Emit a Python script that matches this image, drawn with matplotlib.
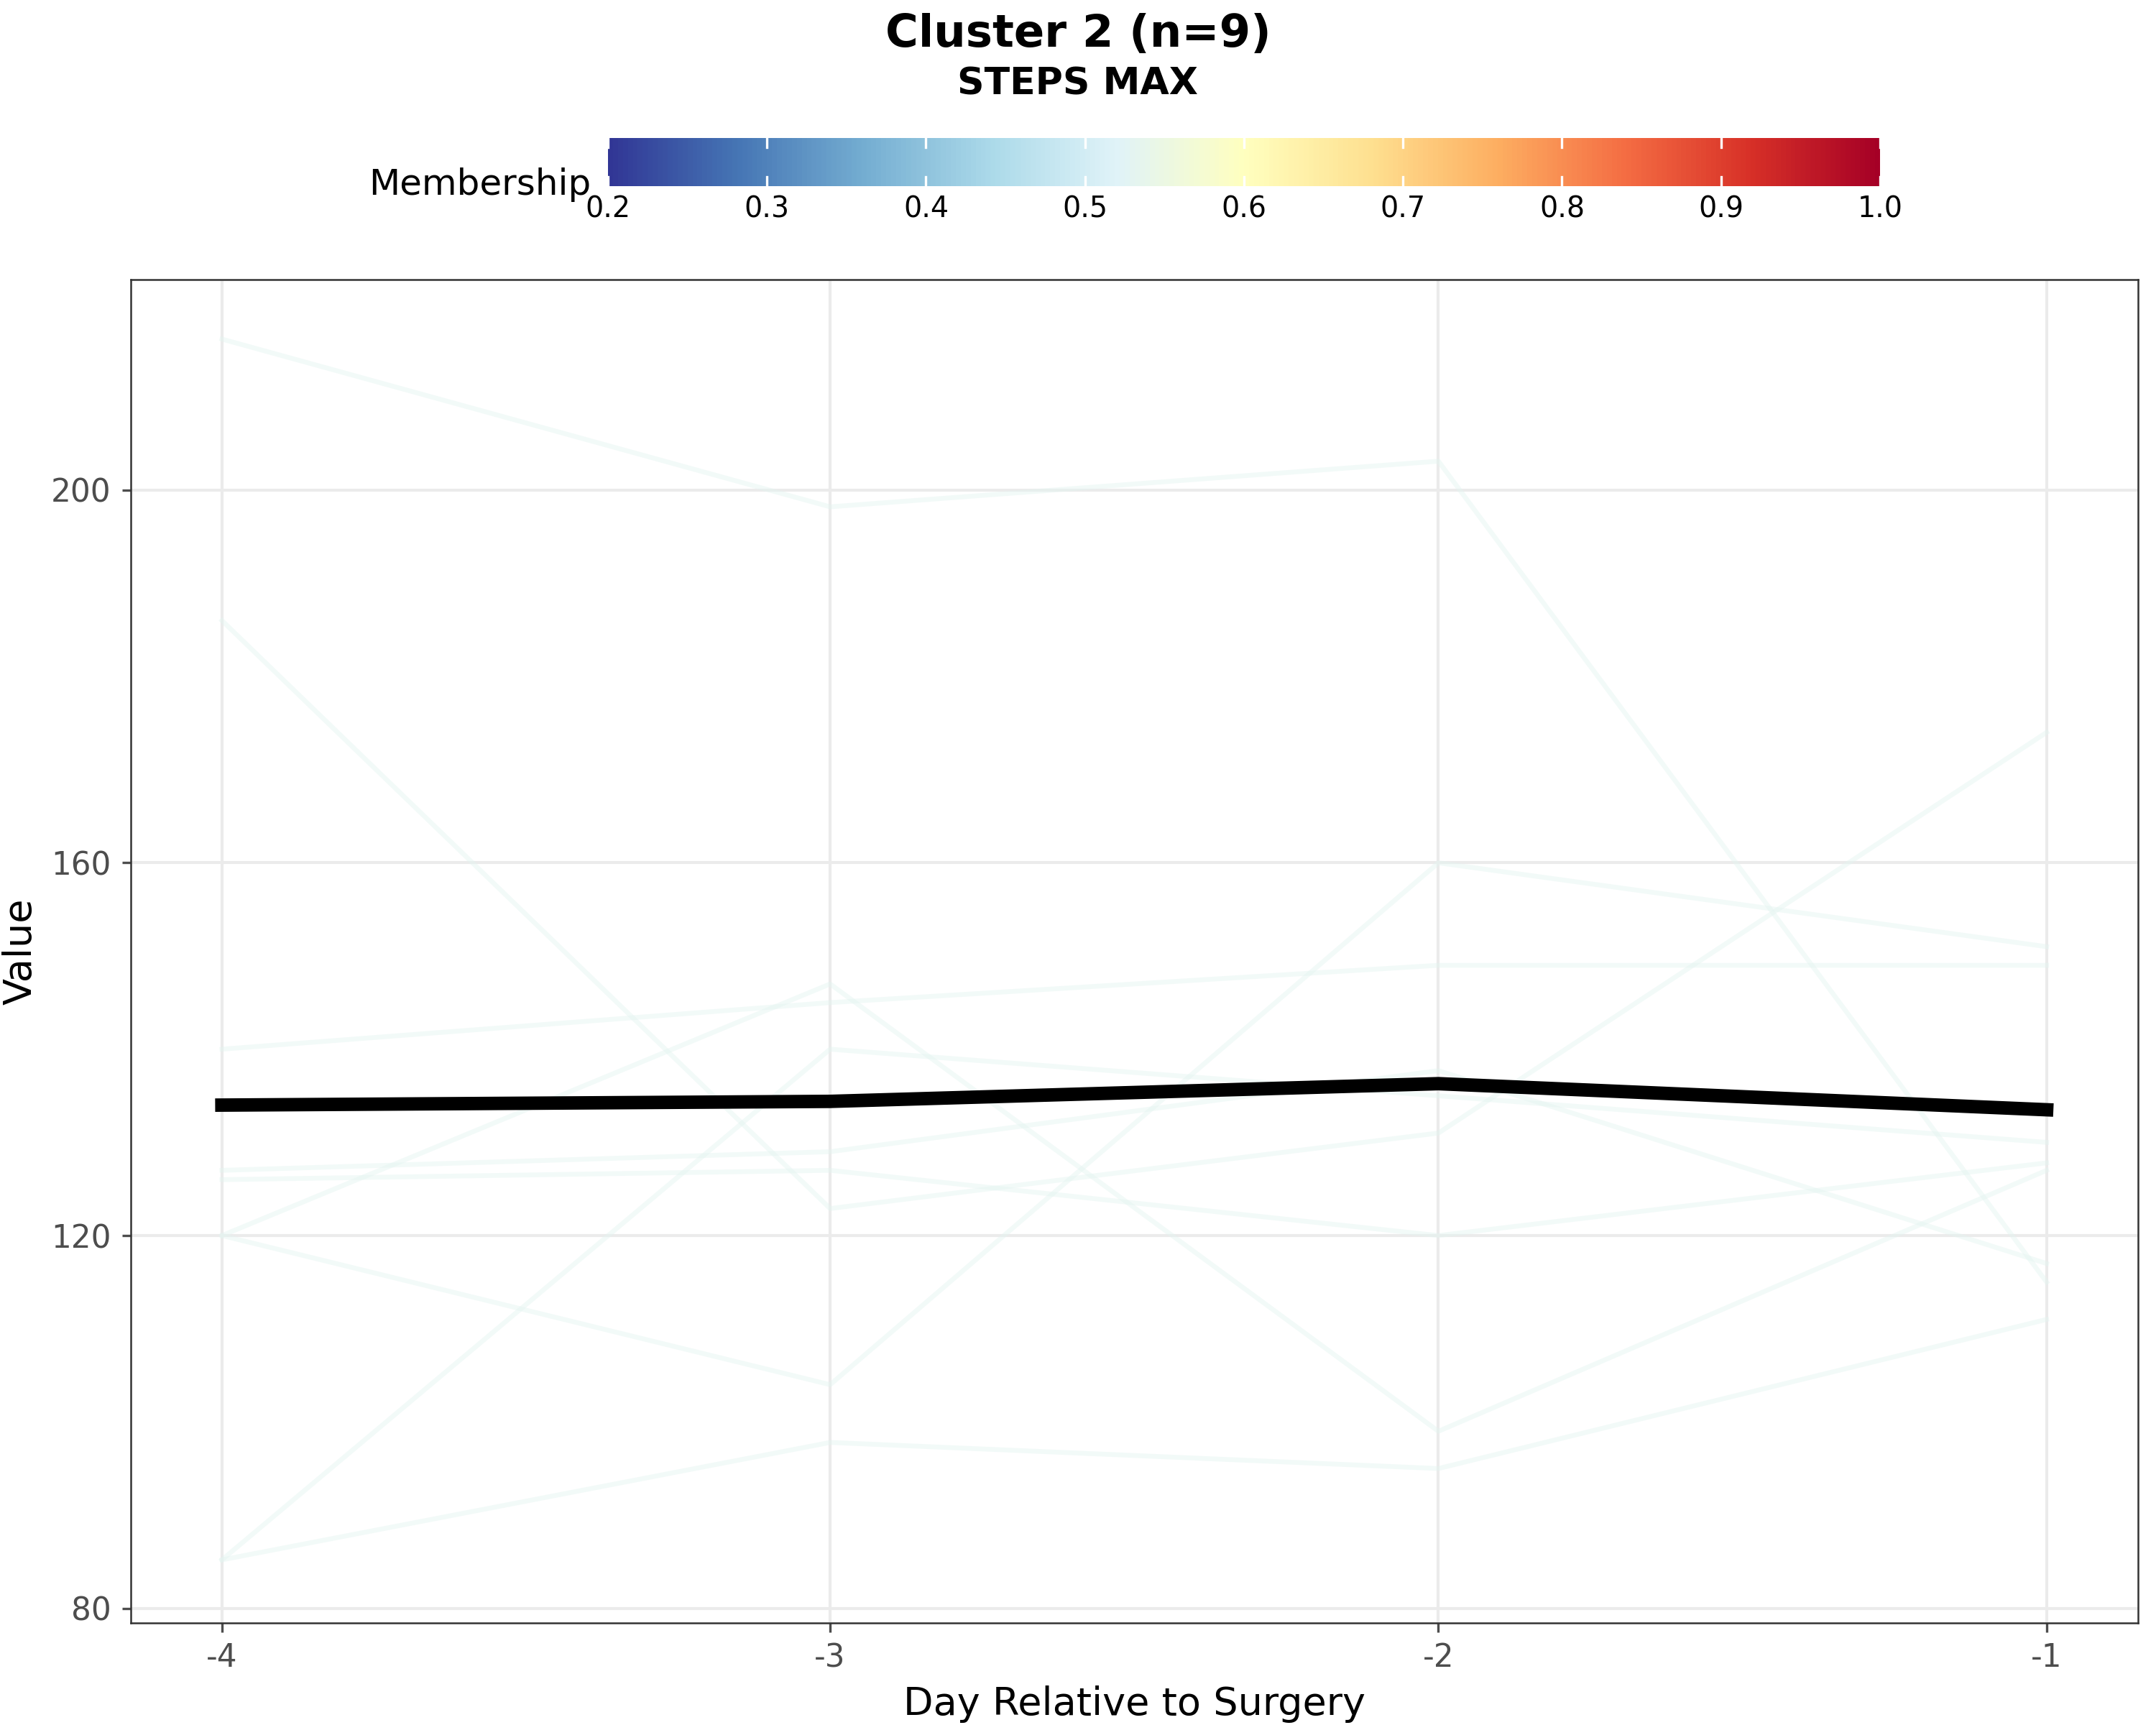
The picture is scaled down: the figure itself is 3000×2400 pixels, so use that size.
import numpy as np
import matplotlib
matplotlib.use("Agg")
import matplotlib.pyplot as plt
from matplotlib import cm, colors as mcolors

days = [-4, -3, -2, -1]
members = [
    [216.2, 198.2, 203.1, 115.0],
    [186.0, 122.9, 131.0, 174.0],
    [140.0, 145.0, 149.0, 149.0],
    [127.0, 129.0, 137.7, 117.0],
    [126.0, 127.0, 120.0, 127.8],
    [120.0, 147.0, 99.0, 127.0],
    [120.0, 104.0, 160.0, 151.0],
    [85.2, 140.0, 135.0, 130.0],
    [85.2, 97.8, 95.0, 111.0],
]
membership = [0.53, 0.53, 0.53, 0.53, 0.53, 0.53, 0.53, 0.53, 0.53]
mean_line = [134.0, 134.4, 136.3, 133.5]

cmap = plt.get_cmap("RdYlBu_r")
norm = mcolors.Normalize(0.2, 1.0)

fig = plt.figure(figsize=(10, 8), dpi=300)
ax = fig.add_axes([0.0606, 0.059, 0.931, 0.779])
for vals, m in zip(members, membership):
    ax.plot(days, vals, color=cmap(norm(m)), lw=1.6, alpha=0.45)
ax.plot(days, mean_line, color="black", lw=4.5)

ax.set_xlim(-4.15, -0.85)
ax.set_ylim(78.4, 222.6)
ax.set_xticks(days)
ax.set_xticklabels([str(d) for d in days])
ax.set_yticks([80, 120, 160, 200])
ax.grid(True, color="#ebebeb", lw=1)
ax.set_axisbelow(True)
ax.tick_params(colors="#4d4d4d", labelsize=10.5, length=3)
for s in ax.spines.values():
    s.set_color("#333333")
    s.set_linewidth(0.6)
ax.set_xlabel("Day Relative to Surgery", fontsize=13)
ax.set_ylabel("Value", fontsize=13)

fig.text(0.5, 0.98, "Cluster 2 (n=9)", ha="center", va="center", fontsize=15, fontweight="bold")
fig.text(0.5, 0.951, "STEPS MAX", ha="center", va="center", fontsize=12.5, fontweight="bold")

cax = fig.add_axes([0.282, 0.892, 0.59, 0.028])
cb = fig.colorbar(cm.ScalarMappable(norm=norm, cmap=cmap), cax=cax, orientation="horizontal")
cb.set_ticks(np.arange(0.2, 1.01, 0.1))
cb.set_ticklabels([f"{t:.1f}" for t in np.arange(0.2, 1.01, 0.1)])
cb.outline.set_visible(False)
cax.tick_params(length=0, labelsize=9.5, pad=3)
for t in np.arange(0.2, 1.01, 0.1):
    cax.axvline(t, ymin=0, ymax=0.2, color="white", lw=0.8)
    cax.axvline(t, ymin=0.8, ymax=1, color="white", lw=0.8)
fig.text(0.274, 0.893, "Membership", ha="right", va="center", fontsize=12)

fig.savefig("out.png", dpi=300)
